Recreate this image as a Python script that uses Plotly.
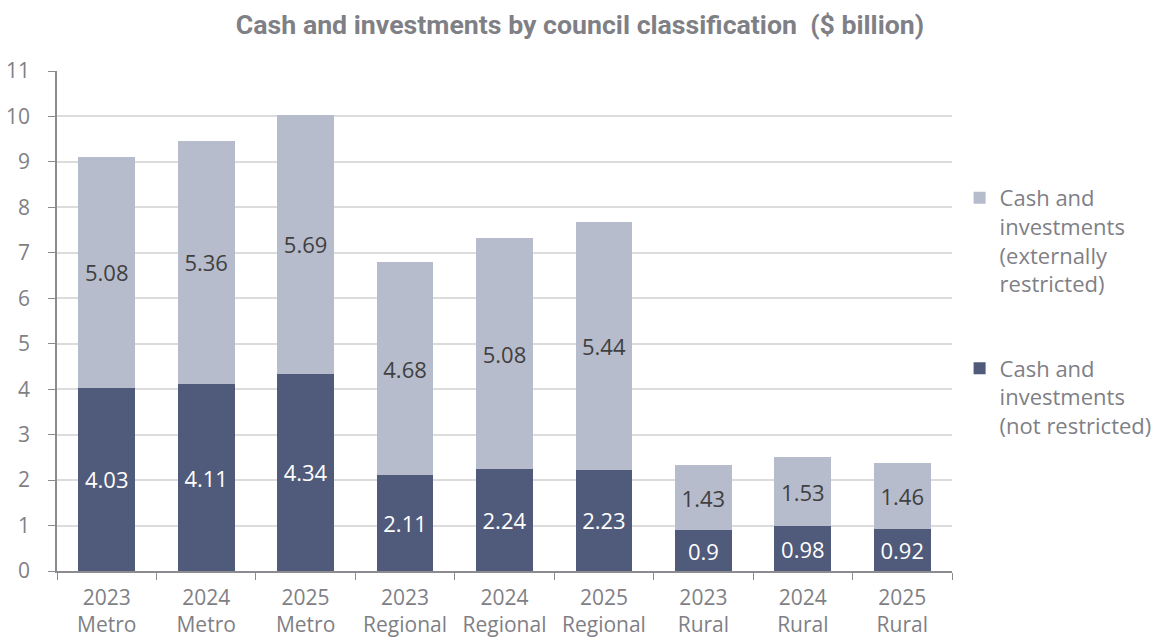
import plotly.graph_objects as go

categories = ["2023<br>Metro", "2024<br>Metro", "2025<br>Metro",
              "2023<br>Regional", "2024<br>Regional", "2025<br>Regional",
              "2023<br>Rural", "2024<br>Rural", "2025<br>Rural"]
not_restricted = [4.03, 4.11, 4.34, 2.11, 2.24, 2.23, 0.9, 0.98, 0.92]
externally_restricted = [5.08, 5.36, 5.69, 4.68, 5.08, 5.44, 1.43, 1.53, 1.46]

dark = "#505a7a"
light = "#b7bccd"
grey_text = "#7f7f86"
font_family = "Open Sans, Noto Sans, DejaVu Sans, sans-serif"

fig = go.Figure()
fig.add_trace(go.Bar(
    x=categories, y=not_restricted,
    name="Cash and<br>investments<br>(not restricted)",
    marker=dict(color=dark, line=dict(width=0)),
    text=[f"{v:g}" for v in not_restricted],
    textposition="inside", insidetextanchor="middle",
    textfont=dict(color="white", size=22, family=font_family),
    textangle=0, legendgroup="a", legendrank=2,
))
fig.add_trace(go.Bar(
    x=categories, y=externally_restricted,
    name="Cash and<br>investments<br>(externally<br>restricted)",
    marker=dict(color=light, line=dict(width=0)),
    text=[f"{v:g}" for v in externally_restricted],
    textposition="inside", insidetextanchor="middle",
    textfont=dict(color="#404040", size=22, family=font_family),
    textangle=0, legendgroup="b", legendrank=1,
))

fig.update_layout(
    width=1160, height=641,
    barmode="stack", bargap=0.43,
    plot_bgcolor="white", paper_bgcolor="white",
    margin=dict(l=57, r=208, t=71, b=70, autoexpand=False),
    font=dict(family=font_family, color=grey_text, size=21),
    title=dict(
        text="<b>Cash and investments by council classification  ($ billion)</b>",
        x=0.5, xanchor="center", y=0.962, yanchor="middle",
        font=dict(family="Roboto, Open Sans, sans-serif", size=26.7, color=grey_text),
    ),
    legend=dict(
        x=1.0085, xanchor="left", y=0.788, yanchor="top",
        traceorder="grouped", tracegroupgap=53,
        valign="top", font=dict(size=22, color=grey_text),
        bgcolor="rgba(0,0,0,0)",
    ),
    xaxis=dict(
        showline=True, linecolor="#8c8c90", linewidth=1.5,
        ticks="outside", tickson="boundaries", ticklen=7, tickcolor="#8c8c90",
        ticklabelstandoff=7, tickangle=0, automargin=False,
        tickfont=dict(size=21, color=grey_text),
        showgrid=False,
    ),
    yaxis=dict(
        range=[0, 11], dtick=1, tick0=0,
        showline=True, linecolor="#8c8c90", linewidth=1.5,
        ticks="outside", ticklen=7, tickcolor="#8c8c90",
        ticklabelstandoff=14, automargin=False,
        tickfont=dict(size=21, color=grey_text),
        showgrid=True, gridcolor="#dcdcdc", gridwidth=1.5,
        zeroline=False,
    ),
)

fig.write_html("out.html")
